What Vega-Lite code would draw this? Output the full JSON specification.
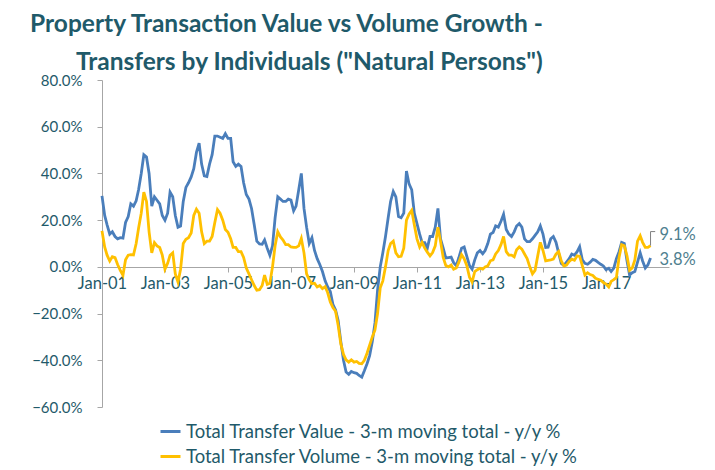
{
  "$schema": "https://vega.github.io/schema/vega-lite/v6.json",
  "width": 567,
  "height": 327,
  "autosize": {"type": "none"},
  "padding": {"left": 102, "top": 80, "right": 46, "bottom": 63},
  "background": "white",
  "config": {"view": {"stroke": null}, "font": "Lato"},
  "title": {
    "text": ["Property Transaction Value vs Volume Growth -", "Transfers by Individuals (\"Natural Persons\")"],
    "anchor": "end", "align": "right", "dx": -153,
    "fontSize": 24.5, "font": "Lato", "fontWeight": "bold", "color": "#1F5A6A",
    "lineHeight": 38, "offset": -2
  },
  "layer": [
    {
      "data": {"values": [
        {"d":"2001-01","val":30.4,"vol":15.4},{"d":"2001-02","val":22,"vol":8.5},{"d":"2001-03","val":18,"vol":5},{"d":"2001-04","val":14,"vol":2.5},{"d":"2001-05","val":15,"vol":4.4},{"d":"2001-06","val":13,"vol":4},{"d":"2001-07","val":12,"vol":1},{"d":"2001-08","val":12.5,"vol":-1.5},{"d":"2001-09","val":12.3,"vol":-3.6},{"d":"2001-10","val":19,"vol":3},{"d":"2001-11","val":21.5,"vol":5},{"d":"2001-12","val":27,"vol":5.2},
        {"d":"2002-01","val":26,"vol":5.1},{"d":"2002-02","val":28.3,"vol":10},{"d":"2002-03","val":33,"vol":16.5},{"d":"2002-04","val":40,"vol":23},{"d":"2002-05","val":48,"vol":32},{"d":"2002-06","val":47,"vol":28},{"d":"2002-07","val":40,"vol":15},{"d":"2002-08","val":26,"vol":6},{"d":"2002-09","val":30,"vol":10.4},{"d":"2002-10","val":28.5,"vol":9},{"d":"2002-11","val":27,"vol":8.3},{"d":"2002-12","val":22,"vol":5},
        {"d":"2003-01","val":20,"vol":-1},{"d":"2003-02","val":23,"vol":1.5},{"d":"2003-03","val":32,"vol":5},{"d":"2003-04","val":30,"vol":6},{"d":"2003-05","val":22,"vol":-3},{"d":"2003-06","val":17,"vol":-6.5},{"d":"2003-07","val":17.5,"vol":-1},{"d":"2003-08","val":28,"vol":10},{"d":"2003-09","val":34,"vol":11.8},{"d":"2003-10","val":36,"vol":12.5},{"d":"2003-11","val":38.5,"vol":14.5},{"d":"2003-12","val":42,"vol":22},
        {"d":"2004-01","val":49,"vol":24.7},{"d":"2004-02","val":53,"vol":23},{"d":"2004-03","val":44,"vol":15},{"d":"2004-04","val":39,"vol":10},{"d":"2004-05","val":38.7,"vol":11},{"d":"2004-06","val":44,"vol":11},{"d":"2004-07","val":48,"vol":13},{"d":"2004-08","val":56,"vol":19},{"d":"2004-09","val":56,"vol":24.5},{"d":"2004-10","val":55.5,"vol":23},{"d":"2004-11","val":55,"vol":20},{"d":"2004-12","val":57,"vol":16},
        {"d":"2005-01","val":55,"vol":14.8},{"d":"2005-02","val":55,"vol":12},{"d":"2005-03","val":45,"vol":8.3},{"d":"2005-04","val":43,"vol":8.3},{"d":"2005-05","val":44,"vol":6.5},{"d":"2005-06","val":43,"vol":6.5},{"d":"2005-07","val":36,"vol":4},{"d":"2005-08","val":31,"vol":-0.5},{"d":"2005-09","val":29,"vol":-3},{"d":"2005-10","val":25,"vol":-5.5},{"d":"2005-11","val":18,"vol":-8},{"d":"2005-12","val":11,"vol":-10},
        {"d":"2006-01","val":9.8,"vol":-9.8},{"d":"2006-02","val":9.7,"vol":-8},{"d":"2006-03","val":11.5,"vol":-3.5},{"d":"2006-04","val":8,"vol":-7.5},{"d":"2006-05","val":5,"vol":-7},{"d":"2006-06","val":9,"vol":0},{"d":"2006-07","val":21,"vol":9},{"d":"2006-08","val":30,"vol":15},{"d":"2006-09","val":29,"vol":12.8},{"d":"2006-10","val":28,"vol":11.5},{"d":"2006-11","val":28,"vol":9.5},{"d":"2006-12","val":29,"vol":9.5},
        {"d":"2007-01","val":28.6,"vol":8.5},{"d":"2007-02","val":24,"vol":8.3},{"d":"2007-03","val":26,"vol":8.3},{"d":"2007-04","val":33,"vol":9},{"d":"2007-05","val":40,"vol":12.2},{"d":"2007-06","val":25,"vol":6},{"d":"2007-07","val":17,"vol":-3},{"d":"2007-08","val":10,"vol":-5.5},{"d":"2007-09","val":12.5,"vol":-7.2},{"d":"2007-10","val":7,"vol":-7},{"d":"2007-11","val":3.5,"vol":-8.6},{"d":"2007-12","val":1,"vol":-8},
        {"d":"2008-01","val":-2,"vol":-9.3},{"d":"2008-02","val":-6,"vol":-8.5},{"d":"2008-03","val":-8.5,"vol":-11},{"d":"2008-04","val":-10.5,"vol":-15},{"d":"2008-05","val":-16,"vol":-17.4},{"d":"2008-06","val":-18.5,"vol":-19},{"d":"2008-07","val":-23,"vol":-25},{"d":"2008-08","val":-32,"vol":-33},{"d":"2008-09","val":-40,"vol":-37.5},{"d":"2008-10","val":-45,"vol":-39.8},{"d":"2008-11","val":-46,"vol":-40.8},{"d":"2008-12","val":-44.8,"vol":-39.8},
        {"d":"2009-01","val":-45.3,"vol":-40.8},{"d":"2009-02","val":-45.6,"vol":-40.5},{"d":"2009-03","val":-46.5,"vol":-41.3},{"d":"2009-04","val":-47.2,"vol":-41.5},{"d":"2009-05","val":-44.5,"vol":-40},{"d":"2009-06","val":-41.5,"vol":-37},{"d":"2009-07","val":-38,"vol":-33.5},{"d":"2009-08","val":-32,"vol":-30},{"d":"2009-09","val":-24,"vol":-27},{"d":"2009-10","val":-10,"vol":-20},{"d":"2009-11","val":0,"vol":-9},{"d":"2009-12","val":6,"vol":-6},
        {"d":"2010-01","val":13,"vol":0},{"d":"2010-02","val":21,"vol":7},{"d":"2010-03","val":28,"vol":10},{"d":"2010-04","val":32.3,"vol":11},{"d":"2010-05","val":30,"vol":6},{"d":"2010-06","val":21.5,"vol":4.3},{"d":"2010-07","val":21,"vol":4.5},{"d":"2010-08","val":23,"vol":8},{"d":"2010-09","val":41,"vol":20},{"d":"2010-10","val":35.5,"vol":22.5},{"d":"2010-11","val":33,"vol":24.2},{"d":"2010-12","val":23,"vol":18},
        {"d":"2011-01","val":18.5,"vol":12},{"d":"2011-02","val":14,"vol":8.5},{"d":"2011-03","val":10.5,"vol":10.5},{"d":"2011-04","val":10.4,"vol":8},{"d":"2011-05","val":8,"vol":6.3},{"d":"2011-06","val":13,"vol":4.7},{"d":"2011-07","val":13,"vol":6.1},{"d":"2011-08","val":17,"vol":9},{"d":"2011-09","val":25,"vol":17},{"d":"2011-10","val":12,"vol":11},{"d":"2011-11","val":8,"vol":4},{"d":"2011-12","val":3.8,"vol":0.6},
        {"d":"2012-01","val":4,"vol":0},{"d":"2012-02","val":4.2,"vol":0.8},{"d":"2012-03","val":1.8,"vol":-1},{"d":"2012-04","val":0.5,"vol":-0.5},{"d":"2012-05","val":4,"vol":2},{"d":"2012-06","val":8,"vol":5.2},{"d":"2012-07","val":8.5,"vol":3.5},{"d":"2012-08","val":4.5,"vol":0.5},{"d":"2012-09","val":0.5,"vol":-4.5},{"d":"2012-10","val":-1,"vol":-6.5},{"d":"2012-11","val":3,"vol":-2},{"d":"2012-12","val":6,"vol":-1.2},
        {"d":"2013-01","val":7,"vol":-0.6},{"d":"2013-02","val":5.6,"vol":-1},{"d":"2013-03","val":7,"vol":0},{"d":"2013-04","val":10,"vol":0.4},{"d":"2013-05","val":14,"vol":2.6},{"d":"2013-06","val":14.7,"vol":3},{"d":"2013-07","val":17.5,"vol":5.5},{"d":"2013-08","val":17,"vol":7},{"d":"2013-09","val":19.5,"vol":9.5},{"d":"2013-10","val":22.5,"vol":13},{"d":"2013-11","val":16,"vol":6.5},{"d":"2013-12","val":14,"vol":5},
        {"d":"2014-01","val":13,"vol":5},{"d":"2014-02","val":15,"vol":4.3},{"d":"2014-03","val":17.5,"vol":7.3},{"d":"2014-04","val":18.5,"vol":8.5},{"d":"2014-05","val":17,"vol":7.6},{"d":"2014-06","val":12,"vol":5.5},{"d":"2014-07","val":10.8,"vol":3.5},{"d":"2014-08","val":10.8,"vol":0},{"d":"2014-09","val":12,"vol":-3},{"d":"2014-10","val":13.5,"vol":-1.5},{"d":"2014-11","val":15,"vol":4.7},{"d":"2014-12","val":17.5,"vol":10.5},
        {"d":"2015-01","val":14,"vol":7},{"d":"2015-02","val":8.3,"vol":2.6},{"d":"2015-03","val":8.4,"vol":2.8},{"d":"2015-04","val":12,"vol":3},{"d":"2015-05","val":13,"vol":3.3},{"d":"2015-06","val":10.5,"vol":5.5},{"d":"2015-07","val":6,"vol":6.6},{"d":"2015-08","val":1.5,"vol":2.6},{"d":"2015-09","val":0.6,"vol":0.4},{"d":"2015-10","val":2,"vol":0.8},{"d":"2015-11","val":3.5,"vol":2.3},{"d":"2015-12","val":5.5,"vol":3.3},
        {"d":"2016-01","val":5,"vol":2.8},{"d":"2016-02","val":6.5,"vol":4.7},{"d":"2016-03","val":8.6,"vol":4.5},{"d":"2016-04","val":3,"vol":0.5},{"d":"2016-05","val":1.5,"vol":-3.5},{"d":"2016-06","val":1.1,"vol":-2.5},{"d":"2016-07","val":2,"vol":-3.3},{"d":"2016-08","val":3.2,"vol":-3.7},{"d":"2016-09","val":2.8,"vol":-4.9},{"d":"2016-10","val":1.9,"vol":-5.3},{"d":"2016-11","val":1.1,"vol":-5.7},{"d":"2016-12","val":0.4,"vol":-6.7},
        {"d":"2017-01","val":-1.2,"vol":-7.4},{"d":"2017-02","val":-0.6,"vol":-8.6},{"d":"2017-03","val":-2,"vol":-6.2},{"d":"2017-04","val":-0.5,"vol":-5.5},{"d":"2017-05","val":3.5,"vol":-4.6},{"d":"2017-06","val":6.5,"vol":4},{"d":"2017-07","val":10.5,"vol":9.5},{"d":"2017-08","val":10,"vol":9},{"d":"2017-09","val":2.6,"vol":4.7},{"d":"2017-10","val":-3.5,"vol":-1.5},{"d":"2017-11","val":-2.5,"vol":-0.5},{"d":"2017-12","val":-2,"vol":3},
        {"d":"2018-01","val":2,"vol":11},{"d":"2018-02","val":6,"vol":13.3},{"d":"2018-03","val":2.5,"vol":10.5},{"d":"2018-04","val":-0.5,"vol":8.3},{"d":"2018-05","val":0.8,"vol":8.3},{"d":"2018-06","val":3.8,"vol":9.1}
      ]},
      "transform": [{"fold": ["val", "vol"], "as": ["s", "v"]}],
      "mark": {"type": "line", "strokeWidth": 2.8},
      "encoding": {
        "x": {
          "field": "d", "type": "temporal",
          "scale": {"type": "utc", "domain": [{"year": 2001, "month": 1, "date": 1, "utc": true}, {"year": 2019, "month": 1, "date": 1, "utc": true}]},
          "axis": {
            "values": [
              {"year": 2001, "month": 1, "date": 1, "utc": true},
              {"year": 2003, "month": 1, "date": 1, "utc": true},
              {"year": 2005, "month": 1, "date": 1, "utc": true},
              {"year": 2007, "month": 1, "date": 1, "utc": true},
              {"year": 2009, "month": 1, "date": 1, "utc": true},
              {"year": 2011, "month": 1, "date": 1, "utc": true},
              {"year": 2013, "month": 1, "date": 1, "utc": true},
              {"year": 2015, "month": 1, "date": 1, "utc": true},
              {"year": 2017, "month": 1, "date": 1, "utc": true}
            ],
            "labelExpr": "utcFormat(datum.value, '%b-%y')",
            "offset": -140, "title": null, "grid": false,
            "domainColor": "#A6A6A6", "tickColor": "#A6A6A6", "tickSize": 5,
            "labelFontSize": 16.5, "labelColor": "#1F5A6A", "labelPadding": 3,
            "labelFlush": false, "labelOverlap": false
          }
        },
        "y": {
          "field": "v", "type": "quantitative",
          "scale": {"domain": [-60, 80], "nice": false, "zero": false},
          "axis": {
            "values": [-60, -40, -20, 0, 20, 40, 60, 80],
            "labelExpr": "format(datum.value, '.1f') + '%'",
            "title": null, "grid": false,
            "domainColor": "#A6A6A6", "tickColor": "#A6A6A6", "tickSize": 5,
            "labelFontSize": 15, "labelColor": "#1F5A6A", "labelPadding": 15
          }
        },
        "color": {
          "field": "s", "type": "nominal",
          "scale": {"domain": ["val", "vol"], "range": ["#4A7EBB", "#FFC000"]},
          "legend": {
            "orient": "none", "legendX": 57, "legendY": 340, "title": null,
            "direction": "vertical", "symbolType": "stroke", "symbolSize": 400,
            "symbolStrokeWidth": 3, "labelFontSize": 18.5, "labelColor": "#1F5A6A",
            "labelLimit": 700, "rowPadding": 4, "labelOffset": 4,
            "labelExpr": "datum.label == 'val' ? 'Total Transfer Value - 3-m moving total - y/y %' : 'Total Transfer Volume - 3-m moving total - y/y %'"
          }
        }
      }
    },
    {
      "data": {"values": [{"d": "2018-06", "v": 9.1, "v2": 15.1}]},
      "mark": {"type": "rule", "color": "#7F7F7F", "strokeWidth": 1},
      "encoding": {
        "x": {"field": "d", "type": "temporal"},
        "y": {"field": "v", "type": "quantitative"},
        "y2": {"field": "v2"}
      }
    },
    {
      "data": {"values": [{"d": "2018-06", "d2": "2018-07-25", "v": 15.1}]},
      "mark": {"type": "rule", "color": "#7F7F7F", "strokeWidth": 1},
      "encoding": {
        "x": {"field": "d", "type": "temporal"},
        "x2": {"field": "d2"},
        "y": {"field": "v", "type": "quantitative"}
      }
    },
    {
      "data": {"values": [{"d": "2018-06", "v": 9.1, "t": "9.1%"}]},
      "mark": {"type": "text", "align": "left", "baseline": "middle", "dx": 9, "dy": -11, "fontSize": 16.5, "color": "#4F7F8F"},
      "encoding": {
        "x": {"field": "d", "type": "temporal"},
        "y": {"field": "v", "type": "quantitative"},
        "text": {"field": "t"}
      }
    },
    {
      "data": {"values": [{"d": "2018-06", "v": 3.8, "t": "3.8%"}]},
      "mark": {"type": "text", "align": "left", "baseline": "middle", "dx": 9, "dy": 2, "fontSize": 16.5, "color": "#4F7F8F"},
      "encoding": {
        "x": {"field": "d", "type": "temporal"},
        "y": {"field": "v", "type": "quantitative"},
        "text": {"field": "t"}
      }
    }
  ]
}
